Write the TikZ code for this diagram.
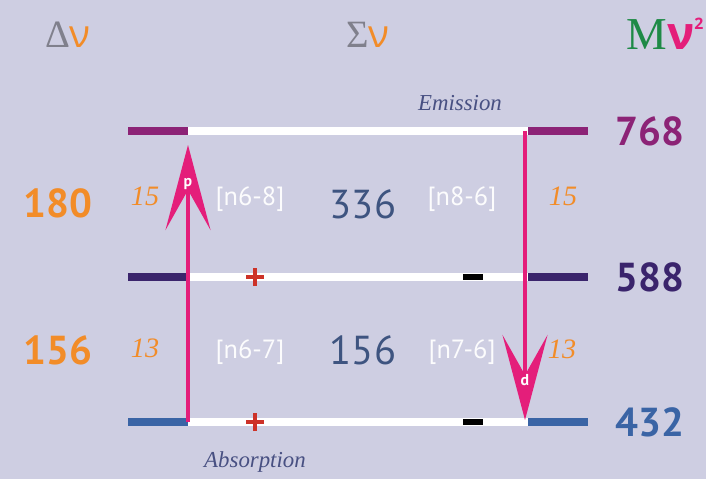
\documentclass[tikz,border=0pt]{standalone}
\usepackage{fontspec}
\setmainfont{PT Sans}
\newfontfamily\grsans{Open Sans}
\newfontfamily\grserif{Liberation Serif}
\usetikzlibrary{arrows.meta, positioning}
\definecolor{cBack}{RGB}{206,206,226}
\definecolor{cTop}{RGB}{140,35,118}
\definecolor{cMid}{RGB}{58,36,108}
\definecolor{cLow}{RGB}{58,100,165}
\definecolor{cOrange}{RGB}{242,140,40}
\definecolor{cMagenta}{RGB}{228,30,122}
\definecolor{cInk}{RGB}{62,84,128}
\definecolor{cItal}{RGB}{72,80,130}
\definecolor{cGrey}{RGB}{128,128,140}
\definecolor{cGreen}{RGB}{30,138,70}
\definecolor{cRed}{RGB}{205,50,40}
\tikzset{
	lvlline/.style ={draw=white, line width=4pt},
	lvlend/.style  ={line width=4.6pt},
	photon/.style  ={draw=cMagenta, line width=2.3pt, -{Stealth[length=17mm, width=9mm, inset=8mm]}},
	energy/.style  ={font=\fontsize{23}{26}\selectfont\bfseries},
	delta/.style   ={font=\fontsize{23}{26}\selectfont\bfseries, text=cOrange},
	sumval/.style  ={font=\fontsize{23}{26}\selectfont, text=cInk},
	trans/.style   ={font=\fontsize{15}{18}\selectfont, text=white!95!cBack},
	quant/.style   ={font=\fontsize{16}{18}\selectfont\grserif\itshape, text=cOrange},
	proc/.style    ={font=\fontsize{13}{16}\selectfont\grserif\itshape, text=cItal},
	head/.style    ={font=\fontsize{22}{26}\selectfont},
	tipchar/.style ={font=\small\bfseries, text=white, inner sep=0pt},
}
\begin{document}
\begin{tikzpicture}
	\useasboundingbox[fill=cBack] (0,0) rectangle (14.12,9.58);
	% energy levels
	\foreach \y/\c/\n in {6.96/cTop/t, 4.04/cMid/m, 1.14/cLow/b}{
		\coordinate (\n l) at (2.56,\y);  \coordinate (\n a) at (3.76,\y);
		\coordinate (\n e) at (10.56,\y); \coordinate (\n r) at (11.76,\y);
		\draw[lvlline] (\n a) -- (\n e);
		\draw[lvlend, draw=\c] (\n l) -- (\n a);
		\draw[lvlend, draw=\c] (\n e) -- (\n r);
	}
	% signs
	\foreach \y in {4.04, 1.14}{
		\draw[cRed, line width=2.2pt] (4.92,\y) -- (5.28,\y) (5.1,\y-0.18) -- (5.1,\y+0.18);
		\draw[black, line width=3pt] (9.26,\y) -- (9.66,\y);
	}
	% transitions
	\coordinate (upS) at (3.76,1.14); \coordinate (upE) at (3.76,6.68);
	\coordinate (dnS) at (10.5,6.96); \coordinate (dnE) at (10.5,1.18);
	\draw[photon] (upS) -- (upE);
	\draw[photon] (dnS) -- (dnE);
	\node[tipchar] (p) at (3.76,5.9) {p};
	\node[tipchar] (d) at (10.5,1.98) {d};
	% headings
	\node[head] (dnu) at (1.36,8.88) {\textcolor{cGrey}{\grserif Δ}\textcolor{cOrange}{\grsans ν}};
	\node[head] (snu) at (7.36,8.88) {\textcolor{cGrey}{\grserif Σ}\textcolor{cOrange}{\grsans ν}};
	\node[head, font=\fontsize{26}{28}\selectfont] (mnu) at (13.3,8.9) {\textcolor{cGreen}{\grserif M}\textcolor{cMagenta}{\grsans\bfseries ν\raisebox{0.8ex}{\fontsize{9}{9}\selectfont 2}}};
	\node[proc] (emi) at (9.2,7.52) {Emission};
	\node[proc] (abs) at (5.1,0.34) {Absorption};
	% values
	\node[energy, text=cTop] (e768) at (13.0,6.96) {768};
	\node[energy, text=cMid] (e588) at (13.0,4.04) {588};
	\node[energy, text=cLow] (e432) at (13.0,1.14) {432};
	\node[delta] (d180) at (1.16,5.52) {180};
	\node[delta] (d156) at (1.16,2.58) {156};
	\node[quant] (q15l) at (2.9,5.66) {15};
	\node[quant] (q13l) at (2.9,2.62) {13};
	\node[quant] (q15r) at (11.26,5.66) {15};
	\node[quant] (q13r) at (11.24,2.6) {13};
	\node[trans] (n68) at (5.0,5.6) {[n6-8]};
	\node[sumval] (s336) at (7.26,5.5) {336};
	\node[trans] (n86) at (9.24,5.6) {[n8-6]};
	\node[trans] (n67) at (5.0,2.54) {[n6-7]};
	\node[sumval] (s156) at (7.26,2.58) {156};
	\node[trans] (n76) at (9.24,2.54) {[n7-6]};
\end{tikzpicture}
\end{document}
